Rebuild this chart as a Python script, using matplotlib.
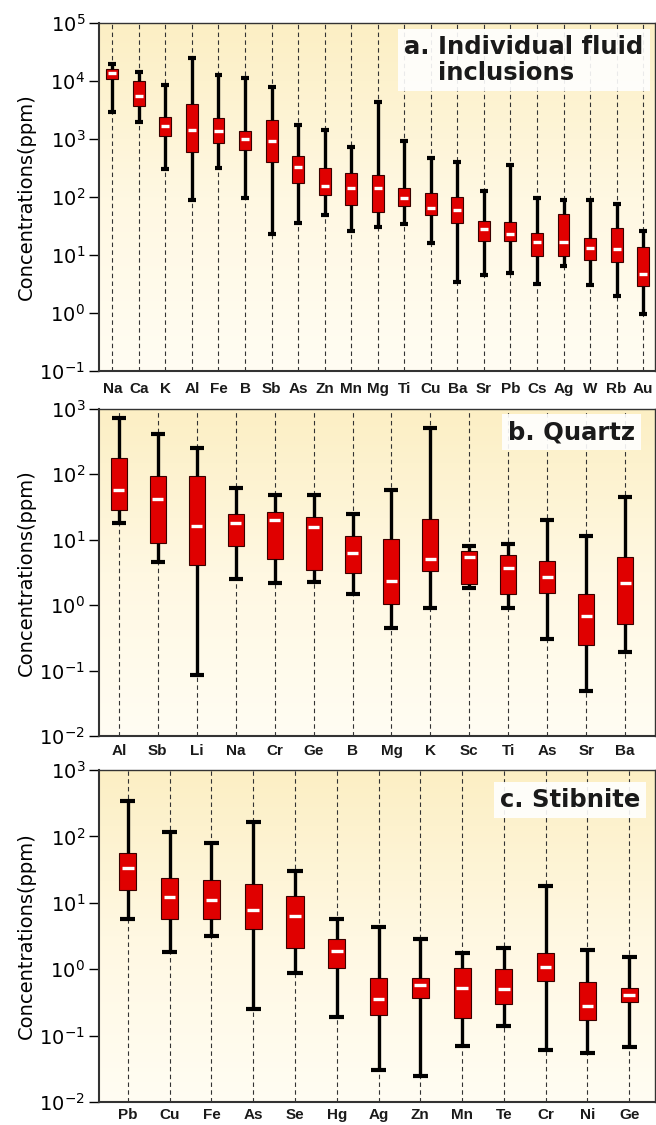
import numpy as np
import matplotlib
matplotlib.use('Agg')
import matplotlib.pyplot as plt
from matplotlib.ticker import FuncFormatter, NullLocator
from matplotlib.colors import LinearSegmentedColormap

plt.rcParams['font.family'] = 'DejaVu Sans'

# a. Individual fluid inclusions
a_elem = ['Na', 'Ca', 'K', 'Al', 'Fe', 'B', 'Sb', 'As', 'Zn', 'Mn', 'Mg',
          'Ti', 'Cu', 'Ba', 'Sr', 'Pb', 'Cs', 'Ag', 'W', 'Rb', 'Au']
a_hi = [19900, 14300, 8400, 24800, 12500, 11400, 7850, 1750, 1440, 720, 4330,
        930, 480, 400, 125, 357, 95, 89, 89, 76, 26]
a_q3 = [16200, 10200, 2440, 4040, 2290, 1350, 2140, 518, 321, 257, 243,
        145, 116, 101, 39, 37, 24.3, 51, 19.4, 28.8, 13.7]
a_med = [14000, 5630, 1690, 1440, 1400, 1000, 940, 334, 155, 141, 141,
         95, 64, 60, 28, 22.7, 16.7, 16.7, 13.3, 12.7, 4.7]
a_q1 = [10800, 3780, 1150, 608, 845, 649, 407, 172, 108, 73, 55,
        70, 49, 35, 17.4, 17.4, 9.7, 9.7, 8.2, 7.7, 2.9]
a_lo = [2980, 1980, 309, 89, 321, 95, 23, 36, 50, 26, 31,
        34, 16, 3.4, 4.5, 4.9, 3.2, 6.4, 3.0, 2.0, 0.95]

# b. Quartz
b_elem = ['Al', 'Sb', 'Li', 'Na', 'Cr', 'Ge', 'B', 'Mg', 'K', 'Sc', 'Ti',
          'As', 'Sr', 'Ba']
b_hi = [736, 414, 250, 61, 49, 49, 25, 58, 518, 8.1, 8.5, 20, 11.5, 45]
b_q3 = [176, 94, 94, 25, 27, 22, 11.4, 10.1, 20.7, 6.8, 5.8, 4.7, 1.47, 5.5]
b_med = [58, 42, 16.2, 17.8, 20, 15.5, 6.2, 2.33, 5.0, 5.5, 3.7, 2.72, 0.69, 2.22]
b_q1 = [28.4, 8.8, 4.1, 8.0, 5.0, 3.5, 3.05, 1.03, 3.3, 2.1, 1.47, 1.56, 0.247, 0.52]
b_lo = [17.8, 4.5, 0.086, 2.47, 2.15, 2.25, 1.47, 0.44, 0.89, 1.84, 0.89,
        0.305, 0.049, 0.19]

# c. Stibnite
c_elem = ['Pb', 'Cu', 'Fe', 'As', 'Se', 'Hg', 'Ag', 'Zn', 'Mn', 'Te', 'Cr',
          'Ni', 'Ge']
c_hi = [344, 115, 81, 166, 30, 5.65, 4.28, 2.86, 1.74, 2.12, 18.1, 1.95, 1.55]
c_q3 = [56.8, 23.3, 22, 19.2, 12.8, 2.86, 0.74, 0.74, 1.04, 1.0, 1.74, 0.64, 0.52]
c_med = [33, 12.1, 11, 7.8, 6.4, 1.89, 0.354, 0.58, 0.52, 0.5, 1.1, 0.284, 0.406]
c_q1 = [15.6, 5.7, 5.7, 4.0, 2.12, 1.04, 0.203, 0.367, 0.183, 0.298, 0.676,
        0.173, 0.319]
c_lo = [5.7, 1.82, 3.17, 0.254, 0.87, 0.194, 0.030, 0.0243, 0.071, 0.141,
        0.061, 0.0546, 0.067]

fig = plt.figure(figsize=(6.56, 11.25), dpi=100)
bg = LinearSegmentedColormap.from_list('bg', ['#fcefc4', '#fff8e2', '#fffdf3'])


def panel(rect, elems, lo, q1, med, q3, hi, dec, xlim, bw, capw, xpad, title, tx, ty):
    back = fig.add_axes(rect, zorder=0)
    back.imshow(np.linspace(0, 1, 256).reshape(-1, 1), cmap=bg, aspect='auto')
    back.axis('off')
    ax = fig.add_axes(rect, zorder=1)
    ax.set_facecolor('none')
    ax.set_yscale('log')

    pos = np.arange(1, len(elems) + 1)
    for p in pos:
        ax.axvline(p, color='#333333', lw=0.8, ls=(0, (4, 3)), zorder=1)

    stats = [dict(med=m, q1=a, q3=b, whislo=l, whishi=h, fliers=[])
             for l, a, m, b, h in zip(lo, q1, med, q3, hi)]
    ax.bxp(stats, positions=pos, widths=bw, capwidths=capw, patch_artist=True,
           showfliers=False,
           boxprops=dict(facecolor='#e00000', edgecolor='#3a0000', linewidth=0.8),
           whiskerprops=dict(color='black', linewidth=2.4, solid_capstyle='butt'),
           capprops=dict(color='black', linewidth=3, solid_capstyle='butt'),
           medianprops=dict(linewidth=0))
    ax.hlines(med, pos - bw * 0.34, pos + bw * 0.34, colors='white',
              linewidth=2.4, zorder=4)

    ax.set_xlim(*xlim)
    ax.set_ylim(10.0 ** dec[0], 10.0 ** dec[1])
    ax.set_xticks(pos, elems, fontsize=11, fontweight='bold',
                  family='Liberation Sans')
    ax.tick_params(axis='x', length=0, pad=xpad, colors='#1a1a1a')
    ax.set_yticks([10.0 ** k for k in range(dec[0], dec[1] + 1)])
    ax.yaxis.set_minor_locator(NullLocator())
    ax.yaxis.set_major_formatter(
        FuncFormatter(lambda v, _: r'$\mathregular{10^{%d}}$' % round(np.log10(v))))
    ax.tick_params(axis='y', direction='out', length=7, width=1, pad=3,
                   labelsize=14)
    for s in ['left', 'bottom']:
        ax.spines[s].set_linewidth(1.5)
    for s in ['top', 'right']:
        ax.spines[s].set_linewidth(1.0)
    for s in ax.spines.values():
        s.set_color('#333333')
    ax.set_ylabel('Concentrations(ppm)', fontsize=14)
    ax.yaxis.set_label_coords(-0.114, 0.5)
    ax.text(tx, ty, title, transform=ax.transAxes, ha='left', va='top',
            fontsize=17.5, fontweight='bold', color='#1a1a1a', linespacing=1.1,
            zorder=5,
            bbox=dict(boxstyle='square,pad=0.25', facecolor='white',
                      edgecolor='none', alpha=0.9))
    return ax


panel([0.151, 0.6702, 0.8476, 0.3093], a_elem, a_lo, a_q1, a_med, a_q3, a_hi,
      (-1, 5), (0.5, 21.45), 0.45, 0.3, 8,
      'a. Individual fluid\n    inclusions', 0.549, 0.965)
panel([0.151, 0.3458, 0.8476, 0.2907], b_elem, b_lo, b_q1, b_med, b_q3, b_hi,
      (-2, 3), (0.49, 14.77), 0.41, 0.36, 6,
      'b. Quartz', 0.736, 0.965)
panel([0.151, 0.0204, 0.8476, 0.2951], c_elem, c_lo, c_q1, c_med, c_q3, c_hi,
      (-2, 3), (0.31, 13.62), 0.41, 0.36, 4,
      'c. Stibnite', 0.721, 0.945)

fig.savefig('out.png', dpi=100)
